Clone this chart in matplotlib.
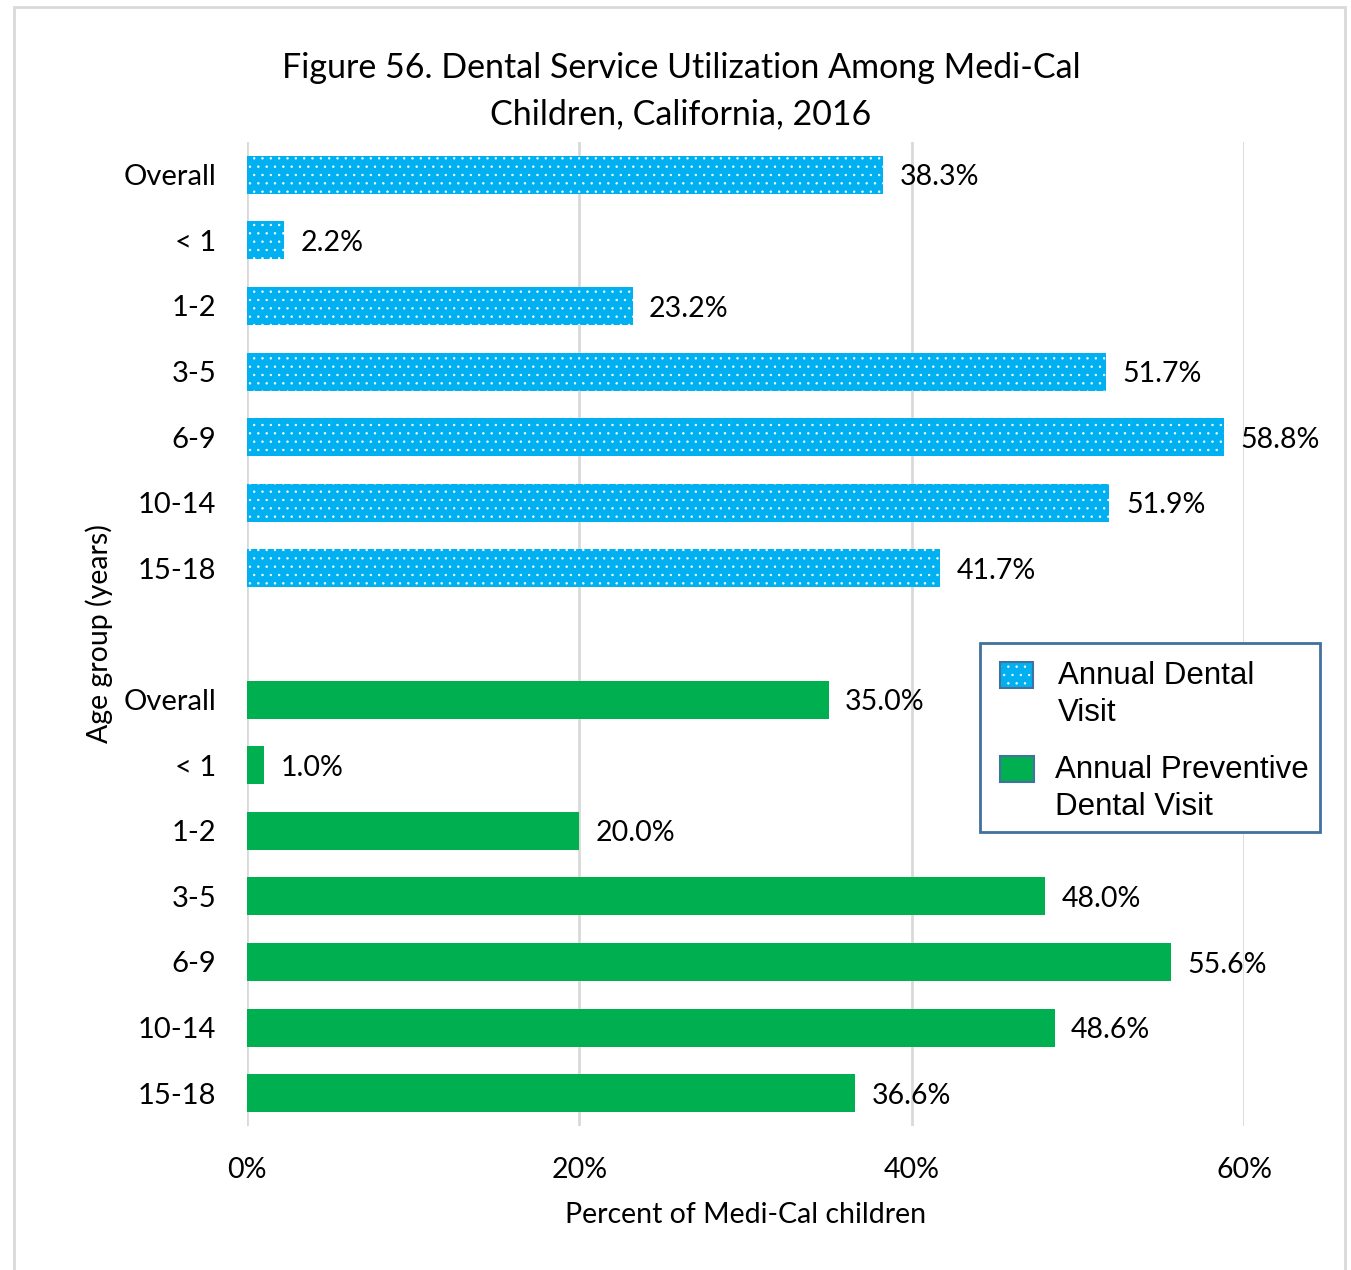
import matplotlib
matplotlib.use("Agg")
import matplotlib.pyplot as plt
from matplotlib.patches import Rectangle

categories = ["Overall", "< 1", "1-2", "3-5", "6-9", "10-14", "15-18"]
annual_dental = [38.3, 2.2, 23.2, 51.7, 58.8, 51.9, 41.7]
annual_preventive = [35.0, 1.0, 20.0, 48.0, 55.6, 48.6, 36.6]
series_names = ["Annual Dental Visit", "Annual Preventive Dental Visit"]
legend_lines = [["Annual Dental", "Visit"], ["Annual Preventive", "Dental Visit"]]
xticks = [0, 20, 40, 60]
xtick_labels = ["0%", "20%", "40%", "60%"]

BLUE = "#00B0F0"
GREEN = "#00B050"
LEGEDGE = "#41719C"
FONT = "Lato"

plt.rcParams["font.family"] = [FONT, "DejaVu Sans"]
plt.rcParams["hatch.linewidth"] = 0.5

W, H = 1351, 1270
fig = plt.figure(figsize=(W / 100, H / 100), dpi=100)
ax = fig.add_axes([247/W, 1-1126/H, (1244-247)/W, (1126-142)/H])

n = len(categories)
pos_a = list(range(n))
pos_b = [n + 1 + i for i in range(n)]

ax.barh(pos_a, annual_dental, height=0.58, color=BLUE, edgecolor="white",
        linewidth=0, hatch="..", zorder=3)
ax.barh(pos_b, annual_preventive, height=0.58, color=GREEN, linewidth=0, zorder=3)

for p, v in zip(pos_a + pos_b, annual_dental + annual_preventive):
    ax.text(v + 1.0, p + 0.04, f"{v:.1f}%", va="center", ha="left", fontsize=20.5,
            color="black", clip_on=False)

ax.set_ylim(2 * n + 0.5, -0.5)
ax.set_xlim(0, 60)
ax.set_yticks(pos_a + pos_b)
ax.set_yticklabels(categories + categories, fontsize=21)
ax.set_xticks(xticks)
ax.set_xticklabels(xtick_labels, fontsize=20.5)
ax.tick_params(axis="both", length=0)
ax.tick_params(axis="y", pad=22)
ax.tick_params(axis="x", pad=22)
for s in ax.spines.values():
    s.set_visible(False)
ax.xaxis.grid(True, color="#D9D9D9", linewidth=2, zorder=0)
ax.set_axisbelow(True)

ax.set_xlabel("Percent of Medi-Cal children", fontsize=20.5, labelpad=14)
ax.set_ylabel("Age group (years)", fontsize=20.5, labelpad=8)

fig.text(681/W, 1-91/H,
         "Figure 56. Dental Service Utilization Among Medi-Cal\nChildren, California, 2016",
         ha="center", va="center", fontsize=24.5, linespacing=1.55)

# legend drawn by hand (handles aligned with first text line, as in the reference)
def fig_rect(x0, y0, x1, y1, **kw):
    r = Rectangle((x0 / W, 1 - y1 / H), (x1 - x0) / W, (y1 - y0) / H,
                  transform=fig.transFigure, **kw)
    fig.patches.append(r)
    return r

fig_rect(980, 643, 1320, 832, fill=True, facecolor="white", edgecolor=LEGEDGE,
         linewidth=2, zorder=5)
fig_rect(1000, 662, 1033, 688, facecolor=BLUE, edgecolor="white", hatch="..",
         linewidth=0, zorder=6)
fig_rect(1000, 662, 1033, 688, fill=False, edgecolor=LEGEDGE, linewidth=1.5, zorder=7)
fig_rect(1000, 756, 1034, 782, facecolor=GREEN, edgecolor=LEGEDGE, linewidth=1.5,
         zorder=6)

legend_font = {"family": "Liberation Sans", "size": 22.5}
text_x = [1058, 1055]
baselines = [[684, 721], [778, 815]]
for lines, tx, bls in zip(legend_lines, text_x, baselines):
    for line, bl in zip(lines, bls):
        fig.text(tx / W, 1 - bl / H, line, ha="left", va="baseline",
                 fontdict=legend_font, zorder=8)

fig.patches.append(Rectangle((14/W, -0.05), (1345-14)/W, 1.05 - 7/H,
                             transform=fig.transFigure, fill=False,
                             edgecolor="#D9D9D9", linewidth=2))

fig.savefig("out.png", dpi=100)
